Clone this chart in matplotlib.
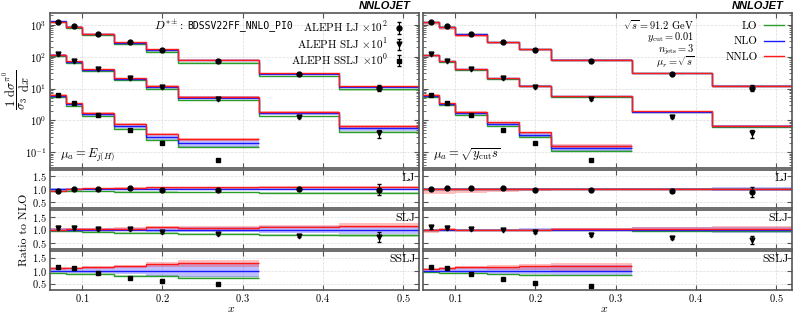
import matplotlib

matplotlib.use("Agg")
import matplotlib.pyplot as plt
import numpy as np
from matplotlib.lines import Line2D
from matplotlib.ticker import FixedLocator, LogLocator, NullFormatter

plt.rcParams["font.family"] = ["cmr10", "DejaVu Serif"]
plt.rcParams["mathtext.fontset"] = "cm"
plt.rcParams["axes.formatter.use_mathtext"] = True
plt.rcParams["font.size"] = 8

# binning in x
X_EDGES = [0.06, 0.08, 0.10, 0.14, 0.18, 0.22, 0.32, 0.42, 0.52]
X_POINTS = [0.07, 0.09, 0.12, 0.16, 0.20, 0.27, 0.37, 0.47]

# ALEPH data (unscaled)
ALEPH_LJ = [12.1, 8.87, 5.21, 2.85, 1.64, 0.755, 0.281, 0.107]
ALEPH_LJ_ERR = [0.25, 0.18, 0.10, 0.06, 0.05, 0.023, 0.014, 0.024]
ALEPH_SLJ = [12.2, 7.55, 4.13, 2.10, 1.10, 0.46, 0.125, 0.039]
ALEPH_SLJ_ERR = [0.6, 0.38, 0.17, 0.08, 0.055, 0.028, 0.006, 0.0105]
ALEPH_SSLJ = [6.3, 3.6, 1.48, 0.50, 0.19, 0.057]
ALEPH_SSLJ_ERR = [0.2, 0.11, 0.045, 0.02, 0.01, 0.003]
SCALES = [100, 10, 1]

# NLO central values in the main panels
NLO_LJ_EJ = [13.2, 8.8, 5.15, 2.76, 1.64, 0.76, 0.284, 0.111]
NLO_SLJ_EJ = [11.3, 7.0, 3.9, 2.05, 1.15, 0.52, 0.167, 0.056]
NLO_SSLJ_EJ = [5.8, 3.16, 1.53, 0.67, 0.30, 0.20]
NLO_LJ_YCUT = [12.3, 8.6, 5.0, 2.82, 1.71, 0.80, 0.30, 0.122]
NLO_SLJ_YCUT = [11.3, 7.06, 4.05, 2.10, 1.22, 0.575, 0.187, 0.065]
NLO_SSLJ_YCUT = [5.9, 3.2, 1.66, 0.76, 0.36, 0.136]

# ratio to NLO, one row per bin:
# LO, LO lo, LO hi, NLO lo, NLO hi, NNLO, NNLO lo, NNLO hi
RATIO_LJ_EJ = [
    [0.93, 0.90, 0.95, 0.97, 1.03, 0.93, 0.90, 0.96],
    [0.92, 0.89, 0.94, 0.97, 1.03, 1.00, 0.97, 1.03],
    [0.91, 0.88, 0.93, 0.97, 1.03, 1.01, 0.98, 1.04],
    [0.89, 0.86, 0.91, 0.96, 1.04, 1.02, 0.99, 1.05],
    [0.88, 0.85, 0.91, 0.96, 1.04, 1.05, 1.00, 1.08],
    [0.86, 0.82, 0.89, 0.96, 1.04, 1.05, 1.00, 1.08],
    [0.85, 0.81, 0.89, 0.95, 1.05, 1.06, 1.01, 1.09],
    [0.84, 0.78, 0.89, 0.95, 1.05, 1.08, 1.02, 1.11],
]
RATIO_SLJ_EJ = [
    [0.95, 0.92, 0.97, 0.95, 1.04, 1.00, 0.96, 1.05],
    [0.93, 0.90, 0.95, 0.95, 1.05, 1.01, 0.97, 1.06],
    [0.91, 0.88, 0.94, 0.94, 1.05, 1.02, 0.98, 1.07],
    [0.88, 0.85, 0.91, 0.93, 1.06, 1.03, 0.98, 1.08],
    [0.87, 0.84, 0.90, 0.92, 1.08, 1.08, 1.02, 1.14],
    [0.84, 0.80, 0.87, 0.90, 1.09, 1.06, 1.00, 1.12],
    [0.80, 0.76, 0.84, 0.87, 1.12, 1.11, 1.04, 1.18],
    [0.77, 0.72, 0.82, 0.84, 1.15, 1.15, 1.06, 1.24],
]
RATIO_SSLJ_EJ = [
    [0.92, 0.89, 0.95, 0.94, 1.06, 1.08, 1.03, 1.12],
    [0.88, 0.85, 0.91, 0.92, 1.08, 1.10, 1.04, 1.15],
    [0.87, 0.83, 0.90, 0.90, 1.10, 1.13, 1.06, 1.18],
    [0.80, 0.77, 0.84, 0.86, 1.14, 1.17, 1.09, 1.23],
    [0.79, 0.75, 0.83, 0.80, 1.20, 1.24, 1.12, 1.32],
    [0.73, 0.70, 0.77, 0.75, 1.25, 1.27, 1.13, 1.40],
]
RATIO_LJ_YCUT = [
    [1.00, 0.99, 1.01, 0.97, 1.03, 0.99, 0.80, 1.02],
    [1.00, 0.99, 1.01, 0.97, 1.03, 0.99, 0.80, 1.02],
    [1.00, 0.99, 1.01, 0.97, 1.03, 0.99, 0.82, 1.02],
    [1.00, 0.99, 1.01, 0.97, 1.03, 0.99, 0.88, 1.02],
    [1.00, 0.99, 1.01, 0.97, 1.03, 0.99, 0.90, 1.02],
    [1.00, 0.99, 1.01, 0.97, 1.03, 1.00, 0.96, 1.03],
    [1.00, 0.99, 1.01, 0.96, 1.04, 1.00, 0.96, 1.03],
    [1.00, 0.99, 1.01, 0.92, 1.08, 1.00, 0.94, 1.04],
]
RATIO_SLJ_YCUT = [
    [0.97, 0.95, 0.99, 0.97, 1.03, 1.00, 0.85, 1.02],
    [0.97, 0.95, 0.99, 0.97, 1.03, 1.01, 0.95, 1.04],
    [0.97, 0.95, 0.99, 0.97, 1.03, 1.00, 0.97, 1.03],
    [0.97, 0.95, 0.99, 0.97, 1.03, 1.00, 0.97, 1.03],
    [0.97, 0.95, 0.99, 0.96, 1.04, 1.00, 0.97, 1.03],
    [0.97, 0.94, 0.99, 0.95, 1.05, 1.02, 0.98, 1.05],
    [0.96, 0.90, 0.99, 0.90, 1.08, 1.02, 0.95, 1.09],
    [0.96, 0.90, 0.99, 0.88, 1.10, 1.03, 0.96, 1.14],
]
RATIO_SSLJ_YCUT = [
    [0.93, 0.91, 0.95, 0.95, 1.05, 1.07, 1.02, 1.11],
    [0.92, 0.90, 0.94, 0.93, 1.07, 1.09, 1.03, 1.13],
    [0.89, 0.87, 0.92, 0.90, 1.10, 1.12, 1.04, 1.17],
    [0.85, 0.83, 0.88, 0.88, 1.12, 1.13, 1.03, 1.20],
    [0.84, 0.81, 0.87, 0.85, 1.15, 1.16, 1.02, 1.24],
    [0.81, 0.78, 0.84, 0.78, 1.22, 1.18, 0.98, 1.30],
]

# data / NLO as shown in the ratio panels
DATA_RATIO_LJ_EJ = [0.93, 0.99, 1.00, 1.02, 0.97, 0.97, 0.99, 0.97]
DATA_RATIO_SLJ_EJ = [1.07, 1.07, 1.03, 1.01, 0.90, 0.83, 0.74, 0.72]
DATA_RATIO_SSLJ_EJ = [1.15, 1.11, 0.91, 0.71, 0.59, 0.49]
DATA_RATIO_LJ_YCUT = [1.00, 1.03, 1.04, 1.01, 0.96, 0.94, 0.93, 0.88]
DATA_RATIO_SLJ_YCUT = [1.08, 1.07, 1.02, 1.00, 0.90, 0.80, 0.67, 0.60]
DATA_RATIO_SSLJ_YCUT = [1.14, 1.08, 0.86, 0.66, 0.51, 0.42]

JET_NAMES = ["LJ", "SLJ", "SSLJ"]
MARKERS = ["o", "v", "s"]
LO_COLOR = "#2a9d2a"
NLO_COLOR = "#1a1aff"
NNLO_COLOR = "#ff1a1a"
FRAME = "#555555"

W, H = 793, 313


def _rect(x0, x1, y0, y1):
    return [x0 / W, 1 - y1 / H, (x1 - x0) / W, (y1 - y0) / H]


def _style(ax):
    for spine in ax.spines.values():
        spine.set_color(FRAME)
        spine.set_linewidth(1.2)
    ax.tick_params(direction="in", top=True, right=True, which="both", labelsize=7.5, color=FRAME, pad=2.5)
    ax.tick_params(axis="x", pad=1.5)
    ax.grid(True, which="major", linestyle="--", color="#dcdcdc", linewidth=0.5)
    ax.set_axisbelow(True)
    ax.set_xlim(0.06, 0.52)
    ax.xaxis.set_major_locator(FixedLocator([0.1, 0.2, 0.3, 0.4, 0.5]))


def _draw_theory(ax, nlo, ratio, factor):
    ratio = np.array(ratio)
    nlo = np.array(nlo) * factor
    edges = X_EDGES[: len(nlo) + 1]
    ones = np.ones(len(nlo))
    bands = [
        (ratio[:, 1], ratio[:, 2], LO_COLOR),
        (ratio[:, 3], ratio[:, 4], NLO_COLOR),
        (ratio[:, 6], ratio[:, 7], NNLO_COLOR),
    ]
    for low, high, color in bands:
        ax.stairs(nlo * high, edges, baseline=nlo * low, fill=True, color=color, alpha=0.28, linewidth=0)
    for centre, color in [(ratio[:, 0], LO_COLOR), (ones, NLO_COLOR), (ratio[:, 5], NNLO_COLOR)]:
        ax.stairs(nlo * centre, edges, baseline=None, color=color, linewidth=1.0)


fig = plt.figure(figsize=(W / 100, H / 100), dpi=100)

columns = [
    ((50, 419), [NLO_LJ_EJ, NLO_SLJ_EJ, NLO_SSLJ_EJ], [RATIO_LJ_EJ, RATIO_SLJ_EJ, RATIO_SSLJ_EJ],
     [DATA_RATIO_LJ_EJ, DATA_RATIO_SLJ_EJ, DATA_RATIO_SSLJ_EJ]),
    ((423, 792), [NLO_LJ_YCUT, NLO_SLJ_YCUT, NLO_SSLJ_YCUT], [RATIO_LJ_YCUT, RATIO_SLJ_YCUT, RATIO_SSLJ_YCUT],
     [DATA_RATIO_LJ_YCUT, DATA_RATIO_SLJ_YCUT, DATA_RATIO_SSLJ_YCUT]),
]
ratio_rows = [(169.5, 208), (210, 249), (251, 290)]
aleph = [ALEPH_LJ, ALEPH_SLJ, ALEPH_SSLJ]
aleph_err = [ALEPH_LJ_ERR, ALEPH_SLJ_ERR, ALEPH_SSLJ_ERR]

main_axes = []
for col, ((x0, x1), nlos, ratios, data_ratios) in enumerate(columns):
    ax = fig.add_axes(_rect(x0, x1, 13, 168))
    _style(ax)
    ax.set_yscale("log")
    ax.set_ylim(0.032, 2350)
    ax.yaxis.set_major_locator(LogLocator(base=10, numticks=10))
    ax.yaxis.set_minor_locator(LogLocator(base=10, subs=np.arange(2, 10), numticks=10))
    ax.yaxis.set_minor_formatter(NullFormatter())
    ax.tick_params(labelbottom=False)
    if col == 1:
        ax.tick_params(labelleft=False)
    handles = []
    for j in range(3):
        _draw_theory(ax, nlos[j], ratios[j], SCALES[j])
        n = len(aleph[j])
        h = ax.errorbar(X_POINTS[:n], np.array(aleph[j]) * SCALES[j], yerr=np.array(aleph_err[j]) * SCALES[j],
                        fmt=MARKERS[j], color="black", markersize=3.5, capsize=1.5, elinewidth=0.8, zorder=5)
        handles.append(h)
    ax.text(0.978, 1.012, "NNLOJET", transform=ax.transAxes, ha="right", va="bottom",
            family="Liberation Sans", fontweight="bold", fontstyle="italic", fontsize=8)
    main_axes.append(ax)

    for j, (y0, y1) in enumerate(ratio_rows):
        rax = fig.add_axes(_rect(x0, x1, y0, y1))
        _style(rax)
        rax.set_ylim(0.25, 1.75)
        rax.yaxis.set_major_locator(FixedLocator([0.5, 1.0, 1.5]))
        _draw_theory(rax, np.ones(len(ratios[j])), ratios[j], 1)
        n = len(data_ratios[j])
        dr = np.array(data_ratios[j])
        rel = np.array(aleph_err[j]) / np.array(aleph[j])
        rax.errorbar(X_POINTS[:n], dr, yerr=dr * rel, fmt=MARKERS[j], color="black",
                     markersize=3.5, capsize=1.5, elinewidth=0.8, zorder=5)
        rax.text(0.99, 0.9, JET_NAMES[j], transform=rax.transAxes, ha="right", va="top", fontsize=8.5)
        if j < 2:
            rax.tick_params(labelbottom=False)
        if col == 1:
            rax.tick_params(labelleft=False)
    fig.text((x0 + x1) / 2 / W - 0.004, 1 - 309 / H, r"$x$", ha="center", va="center", fontsize=8.5)

left, right = main_axes
left.text(0.362, 0.92, r"$D^{*\pm}$:", transform=left.transAxes, ha="right", va="center", fontsize=8.5)
left.text(0.372, 0.92, "BDSSV22FF_NNLO_PI0", transform=left.transAxes, ha="left", va="center",
          family="DejaVu Sans Mono", fontsize=7)
left.legend(handles, [r"ALEPH LJ $\times 10^2$", r"ALEPH SLJ $\times 10^1$", r"ALEPH SSLJ $\times 10^0$"],
            loc="upper right", bbox_to_anchor=(0.975, 1.0), frameon=False, markerfirst=False, fontsize=8,
            handlelength=0.8, handletextpad=0.6, labelspacing=0.15, borderaxespad=0.2)
left.text(0.027, 0.085, r"$\mu_a = E_{j(H)}$", transform=left.transAxes, ha="left", va="center", fontsize=9)

info = [r"$\sqrt{s} = 91.2$ GeV", r"$y_{\rm cut} = 0.01$", r"$n_{\rm jets} = 3$", r"$\mu_r = \sqrt{s}$"]
for text, yy in zip(info, [0.923, 0.842, 0.761, 0.681]):
    right.text(0.735, yy, text, transform=right.transAxes, ha="right", va="center", fontsize=7.5)
order_handles = [Line2D([], [], color=c, linewidth=1.0) for c in (LO_COLOR, NLO_COLOR, NNLO_COLOR)]
right.legend(order_handles, ["LO", "NLO", "NNLO"], loc="upper right", frameon=False, markerfirst=False,
             fontsize=8, handlelength=1.8, handletextpad=0.6, labelspacing=0.55, borderaxespad=0.5,
             borderpad=0.2)
right.text(0.027, 0.085, r"$\mu_a = \sqrt{y_{\rm cut} s}$", transform=right.transAxes, ha="left",
           va="center", fontsize=9)

fig.text(16 / W, 1 - 90 / H, r"$\dfrac{1}{\sigma_3}\dfrac{\mathrm{d}\sigma^{\pi^0}}{\mathrm{d}x}$",
         rotation=90, ha="center", va="center", fontsize=9)
fig.text(24 / W, 1 - 230 / H, "Ratio to NLO", rotation=90, ha="center", va="center", fontsize=8.5)

fig.savefig("out.png", dpi=100)
